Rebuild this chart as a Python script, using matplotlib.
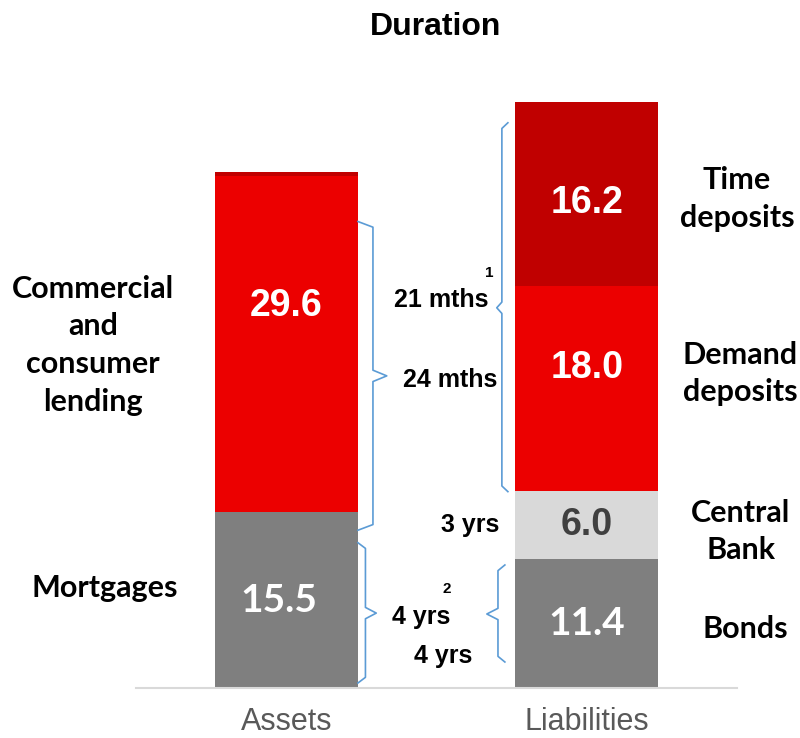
import numpy as np
import matplotlib.pyplot as plt

# data
categories = ['Assets', 'Liabilities']
asset_names = ['Mortgages', 'Commercial and consumer lending', 'Other']
asset_values = [15.5, 29.6, 0.4]
asset_colors = ['#7f7f7f', '#ec0000', '#c00000']
liab_names = ['Bonds', 'Central Bank', 'Demand deposits', 'Time deposits']
liab_values = [11.4, 6.0, 18.0, 16.2]
liab_colors = ['#7f7f7f', '#d9d9d9', '#ec0000', '#c00000']

BOLD = 'Liberation Sans'
CAL = 'Lato'
BRACE = '#5b9bd5'


def brace(ax, x, y0, y1, ytip, hook, tip, d=0.5):
    xs = [x + hook, x, x, x + tip, x, x, x + hook]
    ys = [y1, y1 - d, ytip + d, ytip, ytip - d, y0 + d, y0]
    ax.plot(xs, ys, color=BRACE, lw=1.2, solid_joinstyle='round', clip_on=False)


fig = plt.figure(figsize=(8, 7.38), dpi=100)
ax = fig.add_axes([0, 50 / 738, 1, 688 / 738])
ax.set_xlim(-0.953, 1.709)
ax.set_ylim(0, 688 / 11.35)

width = 0.476
bottom = 0
for v, c in zip(asset_values, asset_colors):
    ax.bar(0, v, width, bottom=bottom, color=c, edgecolor='none')
    bottom += v
bottom = 0
for v, c in zip(liab_values, liab_colors):
    ax.bar(1, v, width, bottom=bottom, color=c, edgecolor='none')
    bottom += v

# value labels (nudged like in the original slide)
a_cum = np.cumsum([0] + asset_values)
l_cum = np.cumsum([0] + liab_values)
ax.text(-0.025, (a_cum[0] + a_cum[1]) / 2, f'{asset_values[0]:.1f}', ha='center', va='center',
        color='white', fontsize=28, fontweight='bold', family=CAL)
ax.text(0, (a_cum[1] + a_cum[2]) / 2 + 3.4, f'{asset_values[1]:.1f}', ha='center', va='center',
        color='white', fontsize=27, fontweight='bold', family=BOLD)
ax.text(1, (l_cum[0] + l_cum[1]) / 2, f'{liab_values[0]:.1f}', ha='center', va='center',
        color='white', fontsize=28, fontweight='bold', family=CAL)
ax.text(1, (l_cum[1] + l_cum[2]) / 2, f'{liab_values[1]:.1f}', ha='center', va='center',
        color='#404040', fontsize=27, fontweight='bold', family=BOLD)
ax.text(1, (l_cum[2] + l_cum[3]) / 2 + 1.8, f'{liab_values[2]:.1f}', ha='center', va='center',
        color='white', fontsize=27, fontweight='bold', family=BOLD)
ax.text(1, (l_cum[3] + l_cum[4]) / 2 - 0.8, f'{liab_values[3]:.1f}', ha='center', va='center',
        color='white', fontsize=27, fontweight='bold', family=BOLD)

# side labels
side = dict(ha='center', va='center', fontsize=22, fontweight='bold', family=CAL,
            linespacing=1.42, multialignment='center', clip_on=False)
ax.text(-0.644, 30.2, 'Commercial\nand\nconsumer\nlending', **side)
ax.text(-0.604, 8.81, 'Mortgages', **side)
ax.text(1.499, 43.1, 'Time\ndeposits', **side)
ax.text(1.509, 27.7, 'Demand\ndeposits', **side)
ax.text(1.512, 13.8, 'Central\nBank', **side)
ax.text(1.526, 5.2, 'Bonds', **side)

# durations
mid = dict(va='center', fontsize=18, fontweight='bold', family=BOLD)
ax.text(0.671, 34.2, '21 mths', ha='right', **mid)
ax.text(0.676, 36.6, '1', ha='center', va='center', fontsize=11, fontweight='bold', family=BOLD)
ax.text(0.544, 27.1, '24 mths', ha='center', **mid)
ax.text(0.710, 14.4, '3 yrs', ha='right', **mid)
ax.text(0.448, 6.26, '4 yrs', ha='center', **mid)
ax.text(0.534, 8.7, '2', ha='center', va='center', fontsize=11, fontweight='bold', family=BOLD)
ax.text(0.521, 2.82, '4 yrs', ha='center', **mid)

brace(ax, 0.288, 13.9, 41.1, 27.5, -0.05, 0.046)
brace(ax, 0.263, 0.44, 12.8, 6.6, -0.025, 0.036)
brace(ax, 0.717, 17.3, 49.8, 33.5, 0.02, -0.017)
brace(ax, 0.704, 2.29, 10.84, 6.52, 0.023, -0.037)

ax.set_xticks([0, 1], categories)
ax.tick_params(axis='x', length=0, pad=14, labelsize=22, labelcolor='#595959')
for lab in ax.get_xticklabels():
    lab.set_family(BOLD)
ax.set_yticks([])
for s in ['top', 'left', 'right']:
    ax.spines[s].set_visible(False)
ax.spines['bottom'].set_bounds(-0.5, 1.5)
ax.spines['bottom'].set_color('#d9d9d9')
ax.spines['bottom'].set_linewidth(1.5)
ax.patch.set_visible(False)

fig.text(436 / 800, 1 - 27 / 738, 'Duration', ha='center', va='center',
         fontsize=23, fontweight='bold', family=BOLD)

fig.savefig('out.png', dpi=100)
